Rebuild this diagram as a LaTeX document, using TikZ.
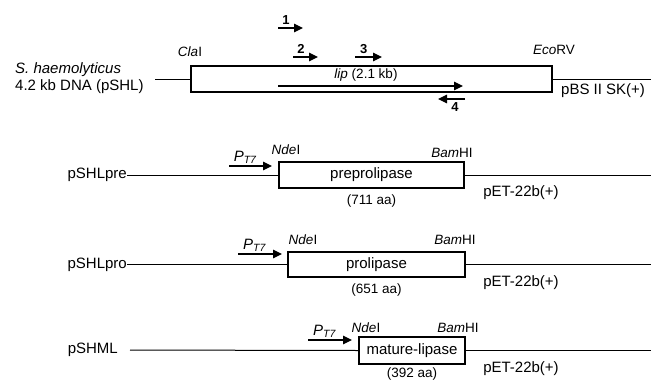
\documentclass[tikz,border=0pt]{standalone}
\usepackage{fontspec}
\setmainfont{Liberation Sans}
\usetikzlibrary{arrows.meta,positioning}
\tikzset{
	gene/.style={
		draw, rectangle, line width=1.3pt,
		inner sep=0pt, text=black,
		font=\fontsize{15}{17}\selectfont
	},
	big/.style={inner sep=0pt, font=\fontsize{15}{17}\selectfont},
	site/.style={inner sep=0pt, font=\fontsize{13.5}{15}\selectfont},
	aa/.style={inner sep=0pt, font=\fontsize{13.5}{15}\selectfont},
	num/.style={inner sep=0pt, font=\bfseries\fontsize{13}{15}\selectfont},
	backbone/.style={line width=1pt},
	primer/.style={-{Triangle[length=9pt,width=8.5pt]}, line width=1.2pt}
}
\newcommand{\ptseven}{\textit{P}\textsubscript{\textit{T7}}}

\begin{document}
\begin{tikzpicture}[x=1pt,y=-1pt]
	\path[use as bounding box] (0,0) rectangle (651,381);
	\coordinate (edge) at (651,0);
	% pSHL insert
	\node[gene, minimum width=361pt, minimum height=26pt] (lip) at (371.5,79) {};
	\node[big, anchor=west, align=left] (src) at (15,78) {\textit{S. haemolyticus}\\4.2 kb DNA (pSHL)};
	\coordinate (srcend) at (155,79);
	\node[site] (cla) at (190,52) {\textit{Cla}I};
	\node[site] (eco) at (554,50) {\textit{Eco}RV};
	\node[big, anchor=west] (pbs) at (561,91) {pBS II SK(+)};
	\draw[backbone] (srcend) -- (lip.west);
	\draw[backbone] (lip.east) -- (lip.east -| edge);
	\coordinate (lipa) at (278,86);
	\coordinate (lipb) at (463,86);
	\draw[primer] (lipa) -- (lipb);
	\node[site] (lipname) at (366,75) {\textit{lip} (2.1 kb)};
	\foreach \n/\xa/\xb/\y in {1/278/303/28, 2/293/318/57, 3/355/382/57}{
		\coordinate (p\n a) at (\xa,\y);
		\coordinate (p\n b) at (\xb,\y);
		\draw[primer] (p\n a) -- (p\n b) node[num, pos=0.32, above=3pt] (n\n) {\n};
	}
	\coordinate (p4a) at (465,99);
	\coordinate (p4b) at (438,99);
	\draw[primer] (p4a) -- (p4b) node[num, pos=0.37, below=3pt] (n4) {4};

	% pSHLpre
	\node[gene, minimum width=185pt, minimum height=26pt] (pre) at (371.5,175) {preprolipase};
	\node[big, anchor=east] (prename) at (127,175) {pSHLpre};
	\node[aa, below=6pt of pre] (preaa) {(711 aa)};
	\node[site] (prende) at (286,150) {\textit{Nde}I};
	\node[site] (prebam) at (452,153) {\textit{Bam}HI};
	\node[big] (prevec) at (521,193) {pET-22b(+)};
	\draw[backbone] (prename.east) -- (pre.west);
	\draw[backbone] (pre.east) -- (pre.east -| edge);
	\coordinate (prepa) at (229,166);
	\coordinate (prepb) at (272,166);
	\draw[primer] (prepa) -- (prepb) node[big, pos=0.38, above=2pt] (prept) {\ptseven};

	% pSHLpro
	\node[gene, minimum width=177pt, minimum height=25pt] (pro) at (376.5,264.5) {prolipase};
	\node[big, anchor=east] (proname) at (127,264.5) {pSHLpro};
	\node[aa, below=6pt of pro] (proaa) {(651 aa)};
	\node[site] (pronde) at (303,240) {\textit{Nde}I};
	\node[site] (probam) at (455,240) {\textit{Bam}HI};
	\node[big] (provec) at (521,283) {pET-22b(+)};
	\draw[backbone] (proname.east) -- (pro.west);
	\draw[backbone] (pro.east) -- (pro.east -| edge);
	\coordinate (propa) at (238,254);
	\coordinate (propb) at (282,254);
	\draw[primer] (propa) -- (propb) node[big, pos=0.38, above=2pt] (propt) {\ptseven};

	% pSHML
	\node[gene, minimum width=106pt, minimum height=27pt] (mat) at (412,350.5) {mature-lipase};
	\node[big, anchor=east] (matname) at (118,350) {pSHML};
	\node[aa, below=3pt of mat] (mataa) {(392 aa)};
	\node[site] (matnde) at (366,328) {\textit{Nde}I};
	\node[site] (matbam) at (458,328) {\textit{Bam}HI};
	\node[big] (matvec) at (521,369) {pET-22b(+)};
	\draw[backbone, shorten <=12pt] (matname.east) -- (mat.west);
	\draw[backbone] (mat.east) -- (mat.east -| edge);
	\coordinate (matpa) at (308,340);
	\coordinate (matpb) at (352,340);
	\draw[primer] (matpa) -- (matpb) node[big, pos=0.38, above=2pt] (matpt) {\ptseven};
\end{tikzpicture}
\end{document}
